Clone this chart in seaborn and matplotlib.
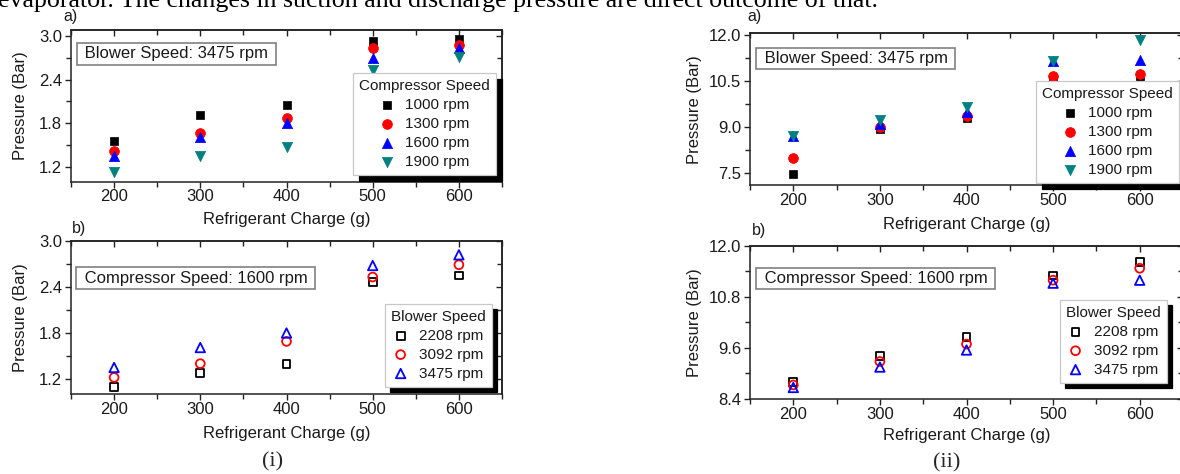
import matplotlib
matplotlib.use("Agg")
import matplotlib.pyplot as plt
import seaborn as sns
import pandas as pd
from matplotlib.ticker import MultipleLocator, FormatStrFormatter

# ---------------- data ----------------
charge = [200, 300, 400, 500, 600]

comp_levels = ["1000 rpm", "1300 rpm", "1600 rpm", "1900 rpm"]
blower_levels = ["2208 rpm", "3092 rpm", "3475 rpm"]

# (i) a) suction pressure, blower 3475 rpm, by compressor speed
suc_c1000 = [1.56, 1.91, 2.05, 2.93, 2.95]
suc_c1300 = [1.42, 1.67, 1.87, 2.83, 2.87]
suc_c1600 = [1.35, 1.61, 1.80, 2.69, 2.83]
suc_c1900 = [1.13, 1.35, 1.48, 2.53, 2.71]

# (i) b) suction pressure, compressor 1600 rpm, by blower speed
suc_b2208 = [1.10, 1.28, 1.40, 2.46, 2.55]
suc_b3092 = [1.22, 1.40, 1.69, 2.53, 2.69]
suc_b3475 = [1.35, 1.61, 1.80, 2.68, 2.82]

# (ii) a) discharge pressure, blower 3475 rpm, by compressor speed
dis_c1000 = [7.45, 8.93, 9.28, 10.49, 10.49]
dis_c1300 = [7.99, 8.98, 9.36, 10.65, 10.71]
dis_c1600 = [8.69, 9.09, 9.47, 11.14, 11.19]
dis_c1900 = [8.71, 9.23, 9.66, 11.16, 11.84]

# (ii) b) discharge pressure, compressor 1600 rpm, by blower speed
dis_b2208 = [8.79, 9.41, 9.86, 11.30, 11.62]
dis_b3092 = [8.73, 9.28, 9.69, 11.19, 11.47]
dis_b3475 = [8.67, 9.15, 9.55, 11.12, 11.19]

comp_colors = ["#000000", "#ff0000", "#0000ff", "#008080"]
comp_markers = ["s", "o", "^", "v"]
comp_sizes = [38, 50, 55, 55]
blower_colors = ["#000000", "#ff0000", "#0000ff"]
blower_markers = ["s", "o", "^"]
blower_sizes = [32, 40, 46]

# ---------------- style ----------------
sns.set_style("ticks")
plt.rcParams["font.family"] = ["Liberation Sans", "DejaVu Sans"]

W, H = 1180, 474
fig = plt.figure(figsize=(W / 100, H / 100), dpi=100)

TXT = "#1a1a1a"
LINE = "#222222"


def rect(l, r, t, b):
    return [l / W, 1 - b / H, (r - l) / W, (b - t) / H]


def style_axes(ax, ylim, ymaj, ymin):
    ax.set_xlim(150, 650)
    ax.set_ylim(*ylim)
    ax.xaxis.set_major_locator(MultipleLocator(100))
    ax.xaxis.set_minor_locator(MultipleLocator(50))
    ax.yaxis.set_major_locator(MultipleLocator(ymaj))
    ax.yaxis.set_minor_locator(MultipleLocator(ymin))
    ax.yaxis.set_major_formatter(FormatStrFormatter("%.1f"))
    ax.tick_params(which="both", direction="out", top=False, right=False,
                   bottom=True, left=True, width=1.0, color=LINE,
                   labelsize=12, labelcolor=TXT)
    ax.tick_params(which="major", length=4.0)
    ax.tick_params(which="minor", length=3.5)
    ax.tick_params(axis="x", pad=1.5)
    ax.tick_params(axis="y", pad=2.5)
    for sp in ax.spines.values():
        sp.set_visible(True)
        sp.set_linewidth(1.1)
        sp.set_color(LINE)
    sx = ax.secondary_xaxis("top")
    sx.xaxis.set_major_locator(MultipleLocator(100))
    sx.xaxis.set_minor_locator(MultipleLocator(50))
    sx.tick_params(which="both", direction="in", labeltop=False, width=1.0,
                   color=LINE)
    sx.tick_params(which="major", length=4.0)
    sx.tick_params(which="minor", length=3.5)
    sx.spines["top"].set_linewidth(1.1)
    sx.spines["top"].set_color(LINE)
    sy = ax.secondary_yaxis("right")
    sy.yaxis.set_major_locator(MultipleLocator(ymaj))
    sy.yaxis.set_minor_locator(MultipleLocator(ymin))
    sy.tick_params(which="both", direction="in", labelright=False, width=1.0,
                   color=LINE)
    sy.tick_params(which="major", length=4.0)
    sy.tick_params(which="minor", length=3.5)
    sy.spines["right"].set_linewidth(1.1)
    sy.spines["right"].set_color(LINE)
    ax.set_xlabel("Refrigerant Charge (g)", fontsize=12, color=TXT)
    ax.set_ylabel("Pressure (Bar)", fontsize=12, color=TXT)


def draw_series(ax, series, levels, colors, markers, sizes, filled):
    for vals, lvl, col, mk, sz in zip(series, levels, colors, markers, sizes):
        if filled:
            sns.scatterplot(x=charge, y=vals, ax=ax, marker=mk, s=sz,
                            color=col, edgecolor=col, linewidth=0.5,
                            label=lvl, zorder=3)
        else:
            sns.scatterplot(x=charge, y=vals, ax=ax, marker=mk, s=sz,
                            color=col, facecolor="none", edgecolor=col,
                            linewidth=1.3, label=lvl, zorder=3)


def add_legend(ax, title, anchor):
    leg = ax.legend(title=title, loc="lower right", bbox_to_anchor=anchor,
                    frameon=True, fancybox=False, framealpha=1,
                    edgecolor="#c8c8c8", fontsize=11, title_fontsize=11,
                    borderpad=0.4, labelspacing=0.32, handlelength=1.0,
                    handletextpad=0.7, borderaxespad=0,
                    shadow={"color": "black", "alpha": 1, "ox": 4, "oy": -4})
    leg.get_frame().set_linewidth(0.9)
    leg.get_title().set_color(TXT)
    for t in leg.get_texts():
        t.set_color(TXT)
    leg.set_zorder(5)
    return leg


def add_box(ax, text, x, y):
    ax.text(x, y, " " + text + " ", transform=ax.transAxes, ha="left",
            va="center", fontsize=12, color=TXT, zorder=6,
            bbox=dict(boxstyle="square,pad=0.2", fc="white", ec="#808080",
                      lw=1.2))


# ---------------- (i) a ----------------
ax1 = fig.add_axes(rect(71, 502, 30, 181.7))
draw_series(ax1, [suc_c1000, suc_c1300, suc_c1600, suc_c1900], comp_levels,
            comp_colors, comp_markers, comp_sizes, True)
style_axes(ax1, (1.0, 3.08), 0.6, 0.3)
add_legend(ax1, "Compressor Speed", (0.986, 0.044))
add_box(ax1, "Blower Speed: 3475 rpm", 0.022, 0.843)
ax1.yaxis.set_label_coords(-0.0998, 0.5)
ax1.xaxis.set_label_coords(0.5, -0.20)

# ---------------- (i) b ----------------
ax2 = fig.add_axes(rect(71, 502, 241, 394.3))
draw_series(ax2, [suc_b2208, suc_b3092, suc_b3475], blower_levels,
            blower_colors, blower_markers, blower_sizes, False)
style_axes(ax2, (1.0, 3.0), 0.6, 0.3)
add_legend(ax2, "Blower Speed", (0.976, 0.05))
add_box(ax2, "Compressor Speed: 1600 rpm", 0.020, 0.757)
ax2.yaxis.set_label_coords(-0.0998, 0.5)
ax2.xaxis.set_label_coords(0.5, -0.207)

# ---------------- (ii) a ----------------
ax3 = fig.add_axes(rect(750, 1183, 33.3, 185))
draw_series(ax3, [dis_c1000, dis_c1300, dis_c1600, dis_c1900], comp_levels,
            comp_colors, comp_markers, comp_sizes, True)
style_axes(ax3, (7.1, 12.05), 1.5, 0.75)
add_legend(ax3, "Compressor Speed", (0.991, 0.013))
add_box(ax3, "Blower Speed: 3475 rpm", 0.022, 0.833)
ax3.yaxis.set_label_coords(-0.111, 0.5)
ax3.xaxis.set_label_coords(0.5, -0.214)

# ---------------- (ii) b ----------------
ax4 = fig.add_axes(rect(750, 1183, 245.7, 399))
draw_series(ax4, [dis_b2208, dis_b3092, dis_b3475], blower_levels,
            blower_colors, blower_markers, blower_sizes, False)
style_axes(ax4, (8.4, 12.0), 1.2, 0.6)
add_legend(ax4, "Blower Speed", (0.962, 0.106))
add_box(ax4, "Compressor Speed: 1600 rpm", 0.022, 0.787)
ax4.yaxis.set_label_coords(-0.111, 0.5)
ax4.xaxis.set_label_coords(0.5, -0.186)

# ---------------- figure texts ----------------
serif = ["Liberation Serif", "DejaVu Serif"]
fig.text(878 / W, 1 - 6.5 / H,
         "evaporator. The changes in suction and discharge pressure are direct outcome of that.",
         ha="right", va="baseline", fontsize=18.6, family=serif, color="black")
for s, x, y in [("a)", 63, 17), ("b)", 72, 228), ("a)", 747, 17), ("b)", 752, 231)]:
    fig.text(x / W, 1 - y / H, s, ha="left", va="center", fontsize=11.5,
             color=TXT)
fig.text(273 / W, 1 - 462 / H, "(i)", ha="center", va="center", fontsize=16,
         family=serif)
fig.text(947 / W, 1 - 463 / H, "(ii)", ha="center", va="center", fontsize=16,
         family=serif)

fig.savefig("out.png", dpi=100)
